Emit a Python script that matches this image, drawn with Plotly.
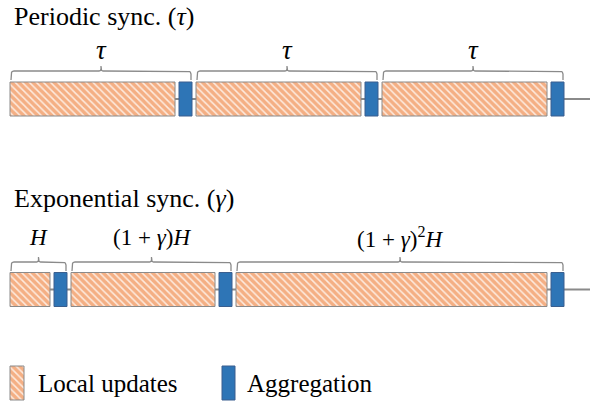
import numpy as np
import plotly.graph_objects as go

# ---------------- data ----------------
row_titles = ["Periodic sync. (<i>τ</i>)", "Exponential sync. (<i>γ</i>)"]
periodic_local = [165, 165, 165]          # local-update durations (τ each)
periodic_labels = ["<i>τ</i>", "<i>τ</i>", "<i>τ</i>"]
exp_local = [40, 144, 311]                # H, (1+γ)H, (1+γ)^2 H
exp_labels = ["<i>H</i>", "(1 + <i>γ</i>)<i>H</i>", "(1 + <i>γ</i>)<sup>2</sup><i>H</i>"]
agg_duration = 13
legend_labels = ["Local updates", "Aggregation"]

# ---------------- style / layout constants ----------------
W, H = 590, 402
ORANGE = "#ED7D31"
BLUE = "#2E75B6"
GRAY = "#8a8a8a"
FONT = "Liberation Serif"
GAP = 4
X0 = 10
BAR_H = 34
PATTERN = dict(shape="\\", fgcolor="#EC7429", bgcolor="#FDEBDF", size=5, solidity=0.7)
rows = [
    dict(local=periodic_local, labels=periodic_labels, y=99, title_y=16,
         brace_h=71, brace_e=80, brace_t=66, label_y=50, label_size=27),
    dict(local=exp_local, labels=exp_labels, y=289.5, title_y=198,
         brace_h=262, brace_e=271, brace_t=257, label_y=237, label_size=23),
]

fig = go.Figure()


def brace(x0, x1, yh, ye, yt, r=3):
    xm = (x0 + x1) / 2
    xs, ys = [x0], [ye]
    for a in np.linspace(np.pi, 1.5 * np.pi, 6):
        xs.append(x0 + r + r * np.cos(a)); ys.append(yh + r + r * np.sin(a))
    xs += [xm - 2, xm - 0.5, xm, xm, xm, xm + 0.5, xm + 2]
    ys += [yh, yh - 0.6, yh - 2, yt, yh - 2, yh - 0.6, yh]
    for a in np.linspace(1.5 * np.pi, 2 * np.pi, 6):
        xs.append(x1 - r + r * np.cos(a)); ys.append(yh + r + r * np.sin(a))
    xs.append(x1); ys.append(ye)
    return xs, ys


annotations = []
for row in rows:
    locs = row["local"]
    starts_l, starts_a = [], []
    x = X0
    for d in locs:
        starts_l.append(x)
        x += d + GAP
        starts_a.append(x)
        x += agg_duration + GAP
    # timeline line
    fig.add_trace(go.Bar(orientation="h", y=[row["y"]], x=[W - X0], base=[X0],
                         width=2, marker=dict(color=GRAY, line=dict(width=0)),
                         showlegend=False, hoverinfo="skip"))
    fig.add_trace(go.Bar(orientation="h", y=[row["y"]] * len(locs), x=locs, base=starts_l,
                         width=BAR_H,
                         marker=dict(color=ORANGE, pattern=PATTERN,
                                     line=dict(color=GRAY, width=1)),
                         showlegend=False, hoverinfo="skip"))
    fig.add_trace(go.Bar(orientation="h", y=[row["y"]] * len(locs), x=[agg_duration] * len(locs),
                         base=starts_a, width=BAR_H,
                         marker=dict(color=BLUE, line=dict(color="#3a5f8f", width=1)),
                         showlegend=False, hoverinfo="skip"))
    for s, d, lab in zip(starts_l, locs, row["labels"]):
        x0b = s + 1
        x1b = s + d + GAP + agg_duration - 1
        bx, by = brace(x0b, x1b, row["brace_h"], row["brace_e"], row["brace_t"])
        fig.add_trace(go.Scatter(x=bx, y=by, mode="lines",
                                 line=dict(color=GRAY, width=1.3),
                                 showlegend=False, hoverinfo="skip"))
        annotations.append(dict(x=(x0b + x1b) / 2, y=row["label_y"], text=lab,
                                showarrow=False, xanchor="center", yanchor="middle",
                                font=dict(family=FONT, size=row["label_size"], color="black")))

for title, row in zip(row_titles, rows):
    annotations.append(dict(x=X0 + 2, y=row["title_y"], text=title, showarrow=False,
                            xanchor="left", yanchor="middle",
                            font=dict(family=FONT, size=26, color="black")))

# legend swatches
LEG_Y = 383
fig.add_trace(go.Bar(orientation="h", y=[LEG_Y], x=[14], base=[10], width=BAR_H,
                     marker=dict(color=ORANGE, pattern=PATTERN,
                                 line=dict(color=GRAY, width=1)),
                     showlegend=False, hoverinfo="skip"))
fig.add_trace(go.Bar(orientation="h", y=[LEG_Y], x=[13], base=[222], width=BAR_H,
                     marker=dict(color=BLUE, line=dict(color="#3a5f8f", width=1)),
                     showlegend=False, hoverinfo="skip"))
annotations.append(dict(x=36, y=LEG_Y, text=legend_labels[0], showarrow=False,
                        xanchor="left", yanchor="middle",
                        font=dict(family=FONT, size=25, color="black")))
annotations.append(dict(x=245, y=LEG_Y, text=legend_labels[1], showarrow=False,
                        xanchor="left", yanchor="middle",
                        font=dict(family=FONT, size=25, color="black")))

fig.update_layout(
    width=W, height=H, margin=dict(l=0, r=0, t=0, b=0),
    paper_bgcolor="white", plot_bgcolor="white",
    barmode="overlay", showlegend=False,
    xaxis=dict(range=[0, W], visible=False, fixedrange=True),
    yaxis=dict(range=[H, 0], visible=False, fixedrange=True),
    annotations=annotations,
)
fig.write_html("out.html", config={"displayModeBar": False},
               post_script="document.body.style.margin='0';document.body.style.overflow='hidden';")
